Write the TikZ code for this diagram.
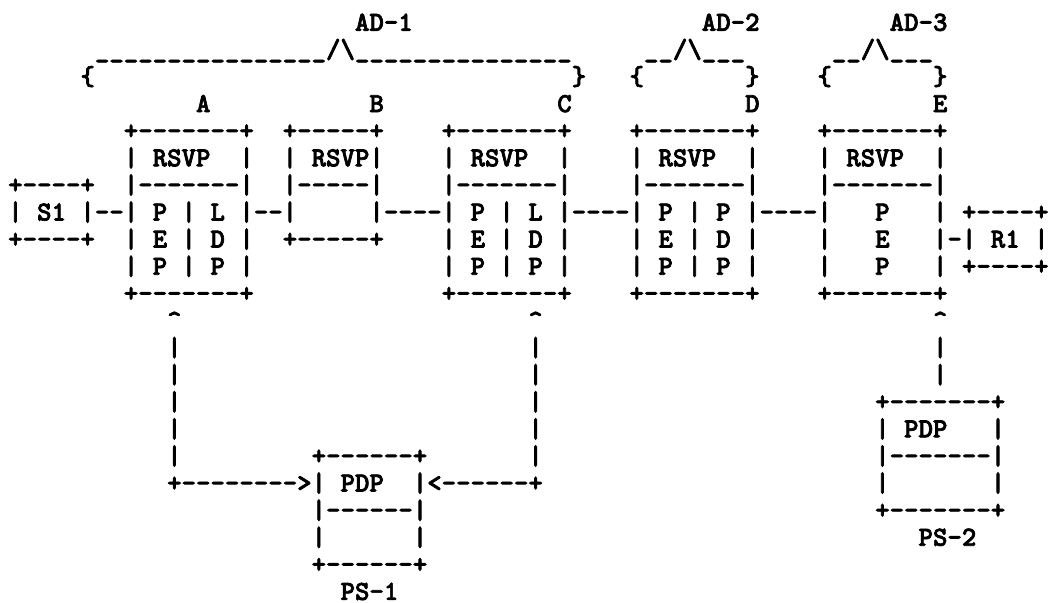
\documentclass[tikz,border=0pt]{standalone}
\usepackage{fontspec}
\usepackage{tikz}
\newfontfamily\ascfont{lmmonolt10-bold.otf}[FakeBold=2.5]
\newcommand{\cw}{7.225}
\newcommand{\lh}{13.55}
\newcommand{\asc}[4]{\node[asc] (#1) at ({3.9+(#2)*\cw},{-15.4-(#3)*\lh}) {#4};}
\newcommand{\ascbox}[4]{\foreach \rowtext [count=\i from 0] in {#4} {\asc{#1\i}{#2}{#3+\i}{\rowtext}}}
\newcommand{\us}[1]{\foreach \k in {1,...,#1}{\_}}
\begin{document}
\begin{tikzpicture}[x=1pt,y=1pt,
  asc/.style={inner sep=0pt,anchor=base west,font=\ascfont\fontsize{13.76pt}{13.6pt}\selectfont}]
  \useasboundingbox (0,0) rectangle (525,-301.5);
  % domains
  \asc{adA}{24}{0}{AD-1}\asc{adB}{48}{0}{AD-2}\asc{adC}{61}{0}{AD-3}
  \asc{capA}{6}{1}{\us{16}/\textbackslash\us{15}}
  \asc{capB}{44}{1}{\us{2}/\textbackslash\us{3}}
  \asc{capC}{57}{1}{\us{2}/\textbackslash\us{3}}
  \asc{lbA}{5}{2}{\{}\asc{rbA}{39}{2}{\}}
  \asc{lbB}{43}{2}{\{}\asc{rbB}{51}{2}{\}}
  \asc{lbC}{56}{2}{\{}\asc{rbC}{64}{2}{\}}
  \asc{nA}{13}{3}{A}\asc{nB}{25}{3}{B}\asc{nC}{38}{3}{C}\asc{nD}{51}{3}{D}\asc{nE}{64}{3}{E}
  % routers
  \ascbox{S}{0}{6}{{+----+},{|~S1~|},{+----+}}
  \ascbox{A}{8}{4}{{+-------+},{|~RSVP~~|},{|-------|},{|~P~|~L~|},{|~E~|~D~|},{|~P~|~P~|},{+-------+}}
  \ascbox{B}{19}{4}{{+-----+},{|~RSVP|},{|-----|},{|~~~~~|},{+-----+}}
  \ascbox{C}{30}{4}{{+-------+},{|~RSVP~~|},{|-------|},{|~P~|~L~|},{|~E~|~D~|},{|~P~|~P~|},{+-------+}}
  \ascbox{D}{43}{4}{{+-------+},{|~RSVP~~|},{|-------|},{|~P~|~P~|},{|~E~|~D~|},{|~P~|~P~|},{+-------+}}
  \ascbox{E}{56}{4}{{+-------+},{|~RSVP~~|},{|-------|},{|~~~P~~~|},{|~~~E~~~|},{|~~~P~~~|},{+-------+}}
  \ascbox{R}{66}{7}{{+----+},{|~R1~|},{+----+}}
  % links
  \asc{lSA}{6}{7}{--}\asc{lAB}{17}{7}{--}\asc{lBC}{26}{7}{----}
  \asc{lCD}{39}{7}{----}\asc{lDE}{52}{7}{----}\asc{lER}{65}{8}{-}
  % policy servers
  \ascbox{P}{21}{16}{{+------+},{|~PDP~~|},{|------|},{|~~~~~~|},{+------+}}
  \asc{psA}{23}{21}{PS-1}
  \ascbox{Q}{60}{14}{{+-------+},{|~PDP~~~|},{|-------|},{|~~~~~~~|},{+-------+}}
  \asc{psB}{63}{19}{PS-2}
  \asc{upA}{11}{11}{\textasciicircum}\asc{upC}{36}{11}{\textasciicircum}\asc{upE}{64}{11}{\textasciicircum}
  \foreach \r in {12,...,16} {\asc{vA\r}{11}{\r}{|}\asc{vC\r}{36}{\r}{|}}
  \foreach \r in {12,13} {\asc{vE\r}{64}{\r}{|}}
  \asc{toP}{11}{17}{+-------->}\asc{fromC}{29}{17}{<------+}
\end{tikzpicture}
\end{document}
